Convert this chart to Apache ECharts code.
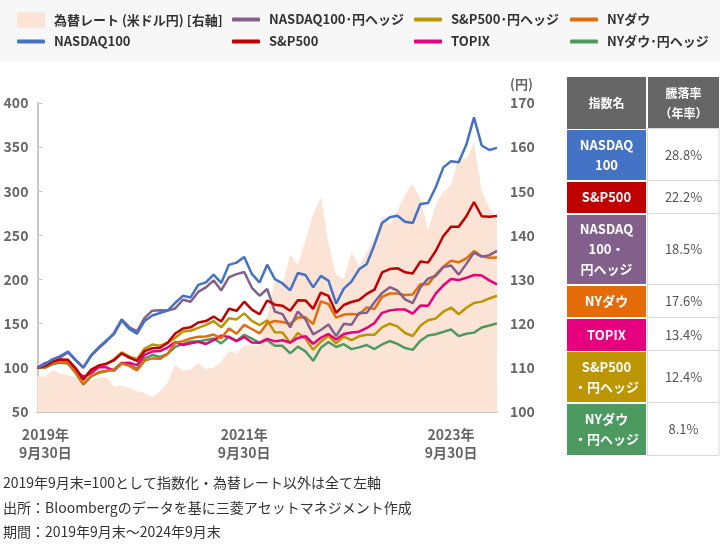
<!DOCTYPE html>
<html><head><meta charset="utf-8">
<script src="https://cdn.jsdelivr.net/npm/echarts@6/dist/echarts.min.js"></script>
<style>html,body{margin:0;padding:0;background:#fff}#c{width:720px;height:545px}</style>
</head><body><div id="c"></div>
<script>
const categories = ['2019/09','2019/10','2019/11','2019/12','2020/01','2020/02','2020/03','2020/04','2020/05','2020/06','2020/07','2020/08','2020/09','2020/10','2020/11','2020/12','2021/01','2021/02','2021/03','2021/04','2021/05','2021/06','2021/07','2021/08','2021/09','2021/10','2021/11','2021/12','2022/01','2022/02','2022/03','2022/04','2022/05','2022/06','2022/07','2022/08','2022/09','2022/10','2022/11','2022/12','2023/01','2023/02','2023/03','2023/04','2023/05','2023/06','2023/07','2023/08','2023/09','2023/10','2023/11','2023/12','2024/01','2024/02','2024/03','2024/04','2024/05','2024/06','2024/07','2024/08','2024/09'];

const fxRate = [108.1,108.0,109.5,108.6,108.4,107.9,107.5,107.2,107.8,107.9,105.8,105.9,105.5,104.7,104.3,103.2,104.7,106.6,110.7,109.3,109.6,111.1,109.7,110.0,111.3,113.9,113.2,115.1,115.1,115.0,121.7,129.8,128.7,135.7,133.3,138.9,144.7,148.7,138.1,131.1,130.1,136.2,133.1,136.3,139.3,144.3,142.3,145.5,149.4,151.7,148.2,141.0,147.0,149.9,151.3,157.8,157.3,160.9,150.0,146.2,143.6];
const nasdaq100 = [100,104.2,109.9,113.3,118.5,109.1,100.5,113.9,123.1,131.1,138.1,153.5,144.2,138.6,153.1,159.3,162.2,164.9,173.7,181.6,179.8,194.0,196.8,205.7,196.2,216.7,219.2,225.6,206.4,196.7,216.9,200.5,195.6,187.8,207.5,205.1,191.1,204.2,198.8,172.8,189.8,197.6,211.6,217.7,239.5,264.2,270.6,272.2,265.4,264.1,285.5,286.8,304.6,327.1,334.1,333.0,352.9,383.7,351.9,346.8,349.2];
const sp500 = [100,102.0,107.1,109.4,109.1,99.5,86.9,97.7,102.7,104.8,108.6,116.4,111.5,107.8,119.0,122.2,122.7,128.3,139.0,144.6,145.9,151.4,153.0,158.1,152.5,166.9,164.6,174.9,165.9,160.7,176.3,171.6,170.4,164.7,176.6,176.4,166.8,185.3,181.5,162.3,171.2,174.6,176.9,183.8,188.6,208.1,211.9,212.9,208.2,207.0,220.4,219.2,232.3,249.4,259.8,259.9,271.7,287.9,271.7,271.1,271.9];
const nasdaq100Hedged = [100,104.2,108.1,112.2,117.4,108.4,99.9,113.7,122.2,129.9,139.5,154.9,146.0,141.3,156.7,164.8,165.2,165.0,167.3,177.2,174.9,186.0,191.2,199.1,187.7,202.5,206.2,208.5,190.7,181.7,189.3,163.7,160.8,145.9,163.8,154.8,137.9,142.9,149.1,136.0,149.9,148.7,162.2,162.5,174.3,184.9,191.4,187.6,177.5,173.3,191.1,201.0,204.0,214.1,215.9,205.6,217.8,230.5,226.0,227.7,232.6];
const nyDow = [100,100.5,105.8,107.0,105.8,94.8,81.6,90.5,95.0,96.8,97.4,105.0,102.3,97.0,108.2,110.7,110.2,115.8,128.4,130.3,133.4,135.3,135.5,137.7,133.5,144.7,138.6,148.7,144.0,139.0,150.6,153.0,151.9,149.7,157.0,157.2,149.5,175.3,172.2,156.8,160.3,160.9,160.5,168.5,166.5,180.5,184.2,184.1,182.6,183.2,194.8,194.7,205.6,214.6,221.4,219.6,224.1,232.2,226.3,224.7,225.1];
const topix = [100,105.3,107.6,109.3,107.3,96.5,89.8,94.0,100.7,100.6,96.9,105.1,105.8,103.1,114.9,118.4,119.0,123.0,129.3,125.9,127.9,129.6,127.1,131.4,136.5,134.9,130.3,135.0,128.8,128.5,132.9,130.0,131.3,128.7,133.8,135.8,127.3,134.1,138.4,132.2,138.3,140.0,141.0,145.2,150.7,162.3,165.1,166.2,166.0,161.4,170.5,170.3,184.1,193.5,200.7,199.4,202.0,205.2,204.6,199.1,194.6];
const sp500Hedged = [100,102.0,105.4,108.3,108.0,98.9,86.5,97.5,102.0,103.9,109.7,117.5,113.0,109.9,121.8,126.4,125.1,128.4,134.0,141.1,142.0,145.2,148.6,153.0,145.9,156.1,154.9,161.7,153.3,148.5,153.8,140.2,140.0,128.1,139.5,133.3,120.5,129.7,136.3,127.8,135.4,131.5,135.7,137.4,137.4,145.9,150.0,147.0,139.5,136.1,147.8,153.9,156.0,163.6,168.3,160.8,168.1,173.5,175.0,178.6,181.7];
const nyDowHedged = [100,100.4,104.1,105.9,104.8,94.2,81.2,90.3,94.3,96.0,98.3,105.9,103.6,98.9,110.7,114.5,112.3,115.9,123.7,127.2,129.8,129.8,131.6,133.3,127.7,135.3,130.4,137.5,133.1,128.4,131.4,125.0,124.9,116.4,124.0,118.7,108.0,122.7,129.3,123.6,126.8,121.2,123.2,125.9,121.3,126.5,130.4,127.1,122.4,120.4,130.7,136.7,138.0,140.8,143.4,135.9,138.7,139.9,145.7,148.0,150.4];

const xTickIndex = [0, 27, 54];
const xTickText = ['2019年\n9月30日', '2021年\n9月30日', '2023年\n9月30日'];
const leftTicks = [50, 100, 150, 200, 250, 300, 350, 400];
const rightTicks = [100, 110, 120, 130, 140, 150, 160, 170];

const tableNames = ['NASDAQ\n100', 'S&P500', 'NASDAQ\n100・\n円ヘッジ', 'NYダウ', 'TOPIX', 'S&P500\n・円ヘッジ', 'NYダウ\n・円ヘッジ'];
const tableRates = ['28.8%', '22.2%', '18.5%', '17.6%', '13.4%', '12.4%', '8.1%'];
const tableHeader = ['指数名', '騰落率\n（年率）'];

const notes = [
  '2019年9月末=100として指数化・為替レート以外は全て左軸',
  '出所：Bloombergのデータを基に三菱アセットマネジメント作成',
  '期間：2019年9月末～2024年9月末'
];

const FX_NAME = '為替レート (米ドル円) [右軸]';
const N_NQ = 'NASDAQ100', N_SP = 'S&P500', N_NQH = 'NASDAQ100･円ヘッジ', N_DOW = 'NYダウ',
      N_TOPIX = 'TOPIX', N_SPH = 'S&P500･円ヘッジ', N_DOWH = 'NYダウ･円ヘッジ';
const FONT = '"Noto Sans CJK JP", "Noto Sans", sans-serif';

const C = {
  fx: '#FBE3D5', nq: '#4472C4', sp: '#C00000', nqh: '#83608C', dow: '#E36C09',
  topix: '#E6007E', sph: '#BC9600', dowh: '#4C9A60'
};
const tableColors = [C.nq, C.sp, C.nqh, C.dow, C.topix, C.sph, C.dowh];

function lineSeries(name, data, color) {
  return { name, type: 'line', data, symbol: 'none', showSymbol: false,
    lineStyle: { width: 2.5, color }, itemStyle: { color }, z: 3 };
}

const series = [
  { name: FX_NAME, type: 'line', yAxisIndex: 1, data: fxRate, symbol: 'none', showSymbol: false,
    lineStyle: { width: 0, color: C.fx }, itemStyle: { color: C.fx },
    areaStyle: { color: C.fx, opacity: 1, origin: 'start' }, z: 1 },
  lineSeries(N_DOWH, nyDowHedged, C.dowh),
  lineSeries(N_SPH, sp500Hedged, C.sph),
  lineSeries(N_TOPIX, topix, C.topix),
  lineSeries(N_DOW, nyDow, C.dow),
  lineSeries(N_NQH, nasdaq100Hedged, C.nqh),
  lineSeries(N_SP, sp500, C.sp),
  lineSeries(N_NQ, nasdaq100, C.nq)
];

const legendDefs = [
  [FX_NAME, 17, 12.5, true],
  [N_NQH, 232, 13],
  [N_SPH, 414, 13],
  [N_DOW, 570, 13],
  [N_NQ, 17, 35],
  [N_SP, 232, 35],
  [N_TOPIX, 414, 35],
  [N_DOWH, 570, 35]
];
const legends = legendDefs.map(d => ({
  data: [d[0]], left: d[1], top: d[2], padding: 0,
  icon: d[3] ? 'rect' : 'roundRect', itemWidth: 28, itemHeight: d[3] ? 15 : 4,
  textStyle: { fontFamily: FONT, fontSize: 13, fontWeight: 'bold', color: '#333', padding: [0, 0, 0, 4] },
  selectedMode: false
}));

// table graphics
const colX1 = 567, colW1 = 79, colX2 = 648, colW2 = 71;
const rowSpans = [[130, 180], [182, 213], [215, 284], [286, 317], [319, 351], [352, 402], [404, 455]];
const graphics = [
  { type: 'rect', left: 0, top: 0, shape: { width: 720, height: 61 }, style: { fill: '#f7f7f7' }, silent: true, z: -10 }
];
graphics.push({ type: 'rect', shape: { x: colX1, y: 77, width: colW1, height: 52 }, style: { fill: '#666666' } });
graphics.push({ type: 'rect', shape: { x: colX2, y: 77, width: colW2, height: 52 }, style: { fill: '#666666' } });
graphics.push({ type: 'text', x: colX1 + colW1 / 2, y: 103, style: { text: tableHeader[0], fill: '#fff', font: 'bold 12px ' + FONT, align: 'center', verticalAlign: 'middle' } });
graphics.push({ type: 'text', x: colX2 + colW2 / 2, y: 103, style: { text: tableHeader[1], fill: '#fff', font: 'bold 12px ' + FONT, align: 'center', verticalAlign: 'middle', lineHeight: 20 } });
rowSpans.forEach((r, i) => {
  const h = r[1] - r[0];
  graphics.push({ type: 'rect', shape: { x: colX1, y: r[0], width: colW1, height: h }, style: { fill: tableColors[i] } });
  graphics.push({ type: 'rect', shape: { x: colX2 - 0.5, y: r[0] - 1.5, width: colW2 + 0.5, height: h + 2 }, style: { fill: '#fff', stroke: '#d9d9d9', lineWidth: 1 } });
  graphics.push({ type: 'text', x: colX1 + colW1 / 2, y: (r[0] + r[1]) / 2, style: { text: tableNames[i], fill: '#fff', font: 'bold 13px ' + FONT, align: 'center', verticalAlign: 'middle', lineHeight: 20 } });
  graphics.push({ type: 'text', x: colX2 + colW2 / 2, y: (r[0] + r[1]) / 2, style: { text: tableRates[i], fill: '#555', font: '13px ' + FONT, align: 'center', verticalAlign: 'middle' } });
});
notes.forEach((t, i) => {
  graphics.push({ type: 'text', x: 3, y: 483 + i * 24.5, style: { text: t, fill: '#333', font: '14px ' + FONT, align: 'left', verticalAlign: 'middle' } });
});

const option = {
  animation: false,
  backgroundColor: '#fff',
  textStyle: { fontFamily: FONT },
  legend: legends,
  grid: { left: 35, right: 223, top: 103, bottom: 133, containLabel: false },
  xAxis: {
    type: 'category', data: categories, boundaryGap: false,
    axisLine: { show: true, lineStyle: { color: '#c8c8c8', width: 2 } },
    axisTick: { show: true, inside: true, length: 5, lineStyle: { color: '#c8c8c8', width: 1 },
      interval: (idx) => xTickIndex.indexOf(idx) > 0 },
    axisLabel: {
      interval: (idx) => xTickIndex.indexOf(idx) >= 0,
      formatter: (v, idx) => {
        const k = xTickIndex.indexOf(idx);
        if (k < 0) return '';
        const parts = xTickText[k].split('\n');
        const key = k === 0 ? 'f' : 'a';
        return parts.map(p => '{' + key + '|' + p + '}').join('\n');
      },
      margin: 14, color: '#666',
      rich: {
        a: { fontFamily: FONT, fontSize: 14, fontWeight: 'bold', color: '#666', lineHeight: 18 },
        f: { fontFamily: FONT, fontSize: 14, fontWeight: 'bold', color: '#666', lineHeight: 18, padding: [0, 0, 0, 16] }
      }
    },
    splitLine: { show: false }
  },
  yAxis: [
    { type: 'value', min: leftTicks[0], max: leftTicks[leftTicks.length - 1], interval: 50,
      axisLine: { show: true, lineStyle: { color: '#c8c8c8', width: 2 } },
      axisTick: { show: true, inside: true, length: 5, lineStyle: { color: '#c8c8c8' } },
      axisLabel: { margin: 9, color: '#666', fontSize: 14, fontWeight: 'bold', fontFamily: FONT },
      splitLine: { show: false } },
    { type: 'value', position: 'right', min: rightTicks[0], max: rightTicks[rightTicks.length - 1], interval: 10,
      name: '(円)', nameLocation: 'end', nameGap: 12,
      nameTextStyle: { color: '#666', fontSize: 13, fontWeight: 'bold', fontFamily: FONT, align: 'left', padding: [0, 0, 0, 13] },
      axisLine: { show: false }, axisTick: { show: false },
      axisLabel: { margin: 13, color: '#666', fontSize: 14, fontWeight: 'bold', fontFamily: FONT },
      splitLine: { show: false } }
  ],
  series,
  graphic: graphics
};

const chart = echarts.init(document.getElementById('c'));
chart.setOption(option);
</script>
</body></html>
